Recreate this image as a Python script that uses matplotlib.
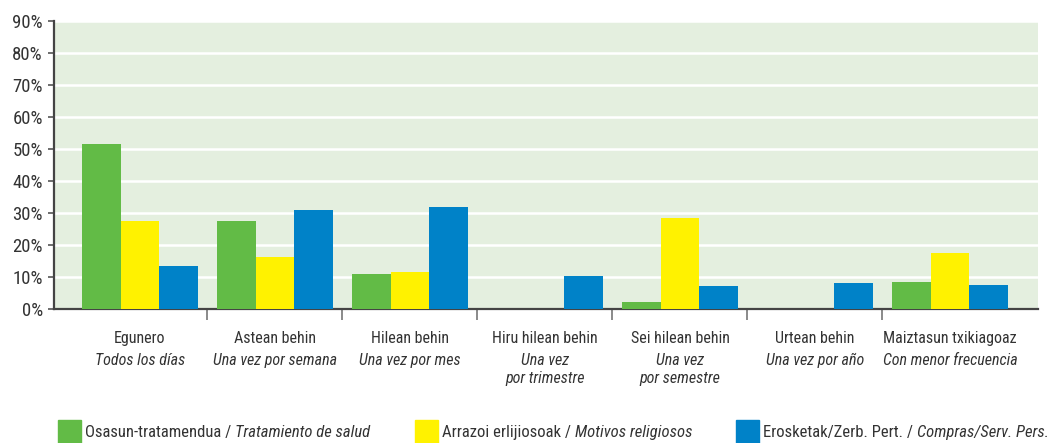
import matplotlib
matplotlib.use("Agg")
import matplotlib.pyplot as plt
from matplotlib.patches import Rectangle
import numpy as np

# maiztasuna / frecuencia
eu_labels = ["Egunero", "Astean behin", "Hilean behin", "Hiru hilean behin",
             "Sei hilean behin", "Urtean behin", "Maiztasun txikiagoaz"]
es_labels = ["Todos los días", "Una vez por semana", "Una vez por mes",
             "Una vez\npor trimestre", "Una vez\npor semestre",
             "Una vez por año", "Con menor frecuencia"]

osasuna = [51.5, 27.5, 10.9, 0.0, 2.2, 0.0, 8.4]
erlijioa = [27.5, 16.2, 11.6, 0.0, 28.4, 0.0, 17.5]
erosketak = [13.4, 30.9, 31.9, 10.3, 7.2, 8.1, 7.5]

series_eu = ["Osasun-tratamendua / ", "Arrazoi erlijiosoak / ", "Erosketak/Zerb. Pert. / "]
series_es = ["Tratamiento de salud", "Motivos religiosos", "Compras/Serv. Pers."]
colors = ["#62BB46", "#FFF200", "#0082C8"]

yticks = np.arange(0, 100, 10)

TXT = "#333333"
plt.rcParams["font.family"] = ["Roboto Condensed", "DejaVu Sans"]

fig = plt.figure(figsize=(10.47, 4.43), dpi=100)
ax = fig.add_axes([54 / 1047, 134 / 443, 984 / 1047, 288 / 443])
ax.set_facecolor("#E4EFDF")

x = np.arange(len(eu_labels))
w = 0.285
for k, vals in enumerate([osasuna, erlijioa, erosketak]):
    ax.bar(x + (k - 1) * w, vals, width=w, color=colors[k], zorder=3)

ax.set_ylim(0, 90)
ax.set_xlim(-0.637, 6.652)
ax.set_yticks(yticks)
ax.set_yticklabels([f"{v}%" for v in yticks], fontsize=13.5, color=TXT)
ax.yaxis.grid(True, color="white", lw=1.8, zorder=1)
ax.set_axisbelow(True)

ax.set_xticks(np.arange(0.5, len(eu_labels) - 1, 1))
ax.set_xticklabels([])
ax.tick_params(axis="x", length=8, width=1.2, color="#777777", direction="out")
ax.tick_params(axis="y", length=4, width=1.2, color="#555555", pad=4)

for s in ["top", "right"]:
    ax.spines[s].set_visible(False)
for s in ["left", "bottom"]:
    ax.spines[s].set_color("#444444")
    ax.spines[s].set_linewidth(1.6)

# kategorien izenak: euskaraz arrunt, gaztelaniaz etzanez
for i in x:
    ax.annotate(eu_labels[i], xy=(i, 0), xycoords=("data", "axes fraction"),
                xytext=(0, -16), textcoords="offset points",
                ha="center", va="top", fontsize=11.5, color=TXT)
    ax.annotate(es_labels[i], xy=(i, 0), xycoords=("data", "axes fraction"),
                xytext=(0, -31.5), textcoords="offset points",
                ha="center", va="top", fontsize=11.5, color=TXT,
                style="italic", linespacing=1.3)

# legenda
renderer = fig.canvas.get_renderer()
sq_x = [58, 415, 736]
for k in range(3):
    fig.add_artist(Rectangle((sq_x[k] / 1047, 0), 23 / 1047, 23 / 443,
                             transform=fig.transFigure, color=colors[k]))
    t = fig.text((sq_x[k] + 27) / 1047, 6 / 443, series_eu[k],
                 fontsize=12, color=TXT, va="baseline", ha="left")
    bb = t.get_window_extent(renderer)
    fig.text(bb.x1 / 1047, 6 / 443, series_es[k], fontsize=12, color=TXT,
             va="baseline", ha="left", style="italic")

fig.savefig("out.png", dpi=100)
